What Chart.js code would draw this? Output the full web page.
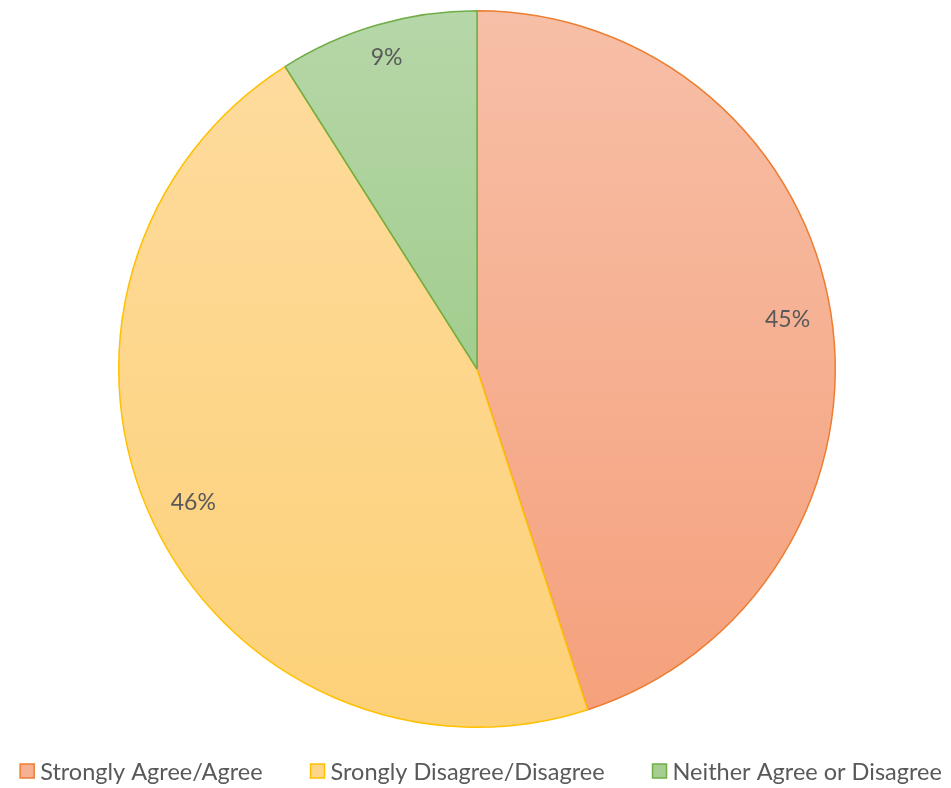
<!DOCTYPE html>
<html><head><meta charset="utf-8">
<script src="https://cdn.jsdelivr.net/npm/chart.js@4"></script>
<style>html,body{margin:0;padding:0;background:#fff}#wrap{width:951px;height:788px;position:relative}</style>
</head><body><div id="wrap"><canvas id="c"></canvas></div>
<script>
const categories = ["Strongly Agree/Agree", "Srongly Disagree/Disagree", "Neither Agree or Disagree"];
const values = [45, 46, 9];
const valueLabels = ["45%", "46%", "9%"];

const borderColors = ["#ED7D31", "#FFC000", "#70AD47"];
const gradTop = ["#F7BFA7", "#FEDCA0", "#B6D7A8"];
const gradBottom = ["#F5A07B", "#FDD178", "#8FC375"];
const legendFill = ["#F6B193", "#FDD68A", "#A5CE90"];
const FONT = "Lato, 'Open Sans', sans-serif";
const TEXT_COLOR = "#595959";

function bg(ctx) {
  const chart = ctx.chart, area = chart.chartArea;
  const i = ctx.dataIndex;
  if (!area) return gradTop[i];
  const g = chart.ctx.createLinearGradient(0, area.top, 0, area.bottom);
  g.addColorStop(0, gradTop[i]);
  g.addColorStop(1, gradBottom[i]);
  return g;
}

const labelPlugin = {
  id: 'sliceLabels',
  afterDatasetsDraw(chart) {
    const ctx = chart.ctx;
    const meta = chart.getDatasetMeta(0);
    ctx.save();
    ctx.font = "23px " + FONT;
    ctx.fillStyle = TEXT_COLOR;
    ctx.textAlign = "center";
    ctx.textBaseline = "middle";
    meta.data.forEach((arc, i) => {
      const p = arc.getProps(['x', 'y', 'startAngle', 'endAngle', 'outerRadius'], true);
      const mid = (p.startAngle + p.endAngle) / 2;
      const w = ctx.measureText(valueLabels[i]).width;
      const hw = w / 2, hh = 10;
      const d = p.outerRadius - 20 - (hw * Math.abs(Math.cos(mid)) + hh * Math.abs(Math.sin(mid)));
      ctx.fillText(valueLabels[i], p.x + Math.cos(mid) * d, p.y + Math.sin(mid) * d);
    });
    ctx.restore();
  }
};

const legendPlugin = {
  id: 'customLegend',
  afterDraw(chart) {
    const ctx = chart.ctx;
    ctx.save();
    ctx.font = "23.5px " + FONT;
    ctx.textBaseline = "middle";
    ctx.textAlign = "left";
    const box = 14, gapText = 6, gapItem = 48;
    const widths = categories.map(t => ctx.measureText(t).width);
    const total = widths.reduce((a, w) => a + box + gapText + w, 0) + gapItem * (categories.length - 1);
    let x = 481 - total / 2;
    const y = 771;
    categories.forEach((t, i) => {
      ctx.fillStyle = legendFill[i];
      ctx.strokeStyle = borderColors[i];
      ctx.lineWidth = 1.5;
      ctx.fillRect(x, y - box / 2, box, box);
      ctx.strokeRect(x, y - box / 2, box, box);
      ctx.fillStyle = TEXT_COLOR;
      ctx.fillText(t, x + box + gapText, y + 1);
      x += box + gapText + widths[i] + gapItem;
    });
    ctx.restore();
  }
};

new Chart(document.getElementById('c'), {
  type: 'pie',
  data: {
    labels: categories,
    datasets: [{
      data: values,
      backgroundColor: bg,
      borderColor: borderColors,
      borderWidth: 1.5
    }]
  },
  options: {
    responsive: true,
    maintainAspectRatio: false,
    animation: false,
    layout: { padding: { top: 10, bottom: 60, left: 3, right: 0 } },
    plugins: { legend: { display: false }, tooltip: { enabled: false } }
  },
  plugins: [labelPlugin, legendPlugin]
});
</script>
</body></html>
